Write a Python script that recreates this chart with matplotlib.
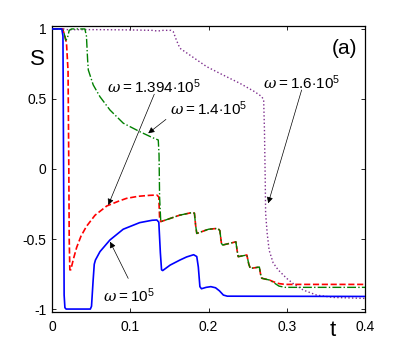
import numpy as np
import matplotlib
matplotlib.use("Agg")
import matplotlib.pyplot as plt

plt.rcParams['font.family'] = ['Liberation Sans', 'DejaVu Sans']
plt.rcParams['mathtext.fontset'] = 'custom'
plt.rcParams['mathtext.rm'] = 'Liberation Sans'
plt.rcParams['mathtext.it'] = 'DejaVu Serif:italic'

# ---- data ----
# omega = 1e5 (solid blue)
t_w1 = [0, 0.0125, 0.014, 0.0148, 0.0155, 0.0165, 0.018, 0.049, 0.0505, 0.0525, 0.054,
        0.0555, 0.0613, 0.074, 0.091, 0.112, 0.128, 0.134, 0.1365, 0.1385, 0.14, 0.1415,
        0.151, 0.1635, 0.172, 0.181, 0.185, 0.187, 0.189, 0.191, 0.197, 0.203, 0.209,
        0.214, 0.219, 0.224, 0.4]
s_w1 = [1, 1, 0.95, 0.0, -0.9, -0.99, -1.0, -1.0, -0.98, -0.8, -0.68,
        -0.65, -0.59, -0.507, -0.43, -0.383, -0.366, -0.364, -0.38, -0.6, -0.72, -0.725,
        -0.686, -0.65, -0.628, -0.612, -0.625, -0.7, -0.84, -0.855, -0.845, -0.84, -0.848,
        -0.87, -0.9, -0.908, -0.91]

# staircase shared by omega = 1.394e5 and 1.4e5 after t ~ 0.138
t_stairs = [0.139, 0.15, 0.163, 0.178, 0.182, 0.1835, 0.185, 0.2, 0.212, 0.2145, 0.2165,
            0.218, 0.235, 0.2365, 0.238, 0.249, 0.2515, 0.2535, 0.265, 0.2665, 0.268, 0.278]
s_stairs = [-0.376, -0.355, -0.33, -0.312, -0.315, -0.4, -0.46, -0.43, -0.424, -0.44, -0.53,
            -0.543, -0.52, -0.58, -0.626, -0.614, -0.68, -0.71, -0.70, -0.75, -0.78, -0.793]

# omega = 1.394e5 (dashed red)
t_w2_head = [0, 0.0135, 0.016, 0.0185, 0.0205, 0.0215, 0.022, 0.0228, 0.024, 0.0275, 0.0315,
             0.037, 0.044, 0.055, 0.07, 0.085, 0.095, 0.11, 0.125, 0.134, 0.1365, 0.1375]
s_w2_head = [1, 1, 0.96, 0.9, 0.7, 0.0, -0.5, -0.72, -0.72, -0.64, -0.56,
             -0.48, -0.41, -0.33, -0.264, -0.23, -0.21, -0.195, -0.188, -0.186, -0.2, -0.35]
t_w2_tail = [0.283, 0.29, 0.298, 0.4]
s_w2_tail = [-0.805, -0.818, -0.824, -0.824]

# omega = 1.4e5 (dash-dot green)
t_w3_head = [0, 0.013, 0.015, 0.0175, 0.0195, 0.022, 0.025, 0.042, 0.044, 0.0455, 0.0464,
             0.0527, 0.0613, 0.0741, 0.0911, 0.1124, 0.128, 0.1358, 0.1368, 0.1375]
s_w3_head = [1, 1, 0.98, 0.92, 0.93, 0.99, 1.0, 1.0, 0.95, 0.78, 0.707,
             0.6, 0.516, 0.421, 0.327, 0.266, 0.225, 0.207, 0.1, -0.2]
t_w3_tail = [0.283, 0.29, 0.298, 0.4]
s_w3_tail = [-0.81, -0.836, -0.845, -0.845]

# omega = 1.6e5 (dotted purple)
t_w4 = [0, 0.015, 0.02, 0.06, 0.1, 0.128, 0.135, 0.142, 0.152, 0.155, 0.159, 0.1635,
        0.176, 0.1976, 0.219, 0.24, 0.259, 0.268, 0.2705, 0.2715, 0.2725, 0.273, 0.275,
        0.2775, 0.2826, 0.289, 0.2997, 0.308, 0.321, 0.338, 0.359, 0.4]
s_w4 = [1, 1, 0.995, 0.995, 0.993, 0.99, 0.985, 0.99, 0.99, 0.98, 0.92, 0.862,
        0.814, 0.731, 0.67, 0.612, 0.552, 0.517, 0.493, 0.28, -0.08, -0.317, -0.46,
        -0.58, -0.67, -0.72, -0.78, -0.817, -0.864, -0.9, -0.917, -0.924]

labels = [r'$\omega = 10^{5}$', r'$\omega = 1.394{\cdot}10^{5}$',
          r'$\omega = 1.4{\cdot}10^{5}$', r'$\omega = 1.6{\cdot}10^{5}$']

# ---- figure ----
fig = plt.figure(figsize=(4.03, 3.51), dpi=100)
ax = fig.add_axes([52 / 403, 1 - 312 / 351, 313 / 403, 286 / 351])

ax.plot(t_w1, s_w1, color='#0000ff', lw=1.2, zorder=4)
ax.plot(t_w2_head + t_stairs + t_w2_tail, s_w2_head + s_stairs + s_w2_tail,
        color='#ff0000', lw=1.2, ls='--', zorder=3)
ax.plot(t_w3_head + t_stairs + t_w3_tail, s_w3_head + s_stairs + s_w3_tail,
        color='#008000', lw=1.0, ls='-.', zorder=3)
ax.plot(t_w4, s_w4, color='#7e2f8e', lw=1.0, ls=':', zorder=2)

# annotations: (text x, text y), (arrow tail), (arrow head)
ann = [
    ((0.0651, -0.902), (0.0974, -0.781), (0.0741, -0.519)),
    ((0.0702, 0.586), (0.1307, 0.534), (0.0719, -0.257)),
    ((0.1507, 0.43), (0.1456, 0.354), (0.123, 0.255)),
    ((0.270, 0.614), (0.319, 0.564), (0.2763, -0.245)),
]
for lab, (txy, tail, head) in zip(labels, ann):
    ax.text(txy[0], txy[1], lab, fontsize=11, ha='left', va='center')
    ax.annotate('', xy=head, xytext=tail,
                arrowprops=dict(arrowstyle='-|>', color='black', lw=0.5,
                                mutation_scale=9, shrinkA=0, shrinkB=0))

ax.set_xlim(0, 0.4)
ax.set_ylim(-1.021, 1.021)
ax.set_xticks([0, 0.1, 0.2, 0.3, 0.4])
ax.set_xticklabels(['0', '0.1', '0.2', '0.3', '0.4'])
ax.set_yticks([-1, -0.5, 0, 0.5, 1])
ax.set_yticklabels(['-1', '-0.5', '0', '0.5', '1'])
ax.tick_params(direction='in', top=True, right=True, length=3, width=0.6, labelsize=10)
ax.tick_params(axis='x', pad=6)
ax.tick_params(axis='y', pad=4)
for sp in ax.spines.values():
    sp.set_linewidth(0.9)

ax.text(-0.046, 0.883, 'S', transform=ax.transAxes, fontsize=16, ha='center', va='center')
ax.text(0.896, -0.065, 't', transform=ax.transAxes, fontsize=16, ha='center', va='center')
ax.text(0.936, 0.923, '(a)', transform=ax.transAxes, fontsize=15, ha='center', va='center')

fig.savefig('out.png', dpi=100)
